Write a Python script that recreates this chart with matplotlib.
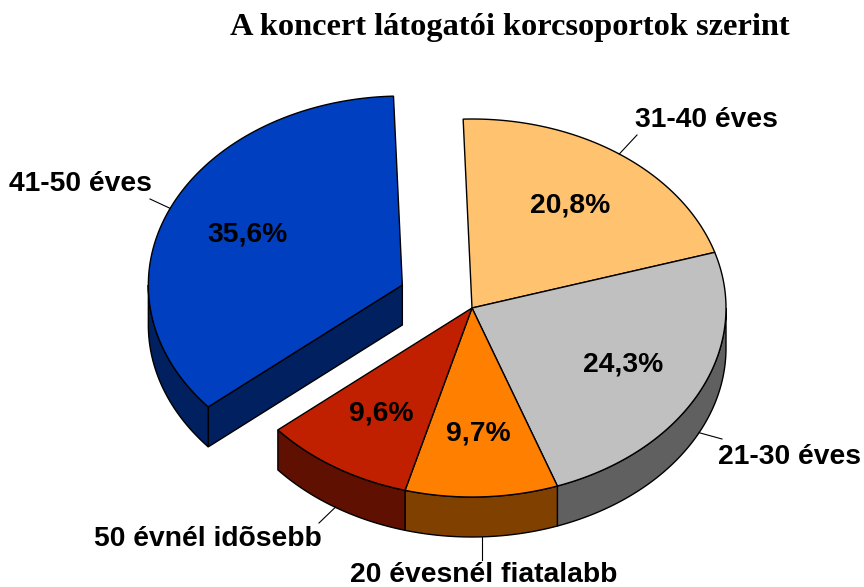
import numpy as np
import matplotlib
matplotlib.use("Agg")
import matplotlib.pyplot as plt
from matplotlib.patches import Polygon

# ---- data ----
categories = ["31-40 éves", "21-30 éves", "20 évesnél fiatalabb", "50 évnél idõsebb", "41-50 éves"]
values = [20.8, 24.3, 9.7, 9.6, 35.6]
explode = [0, 0, 0, 0, 0.3]
title = "A koncert látogatói korcsoportok szerint"

# ---- style ----
top_colors = ["#FFC26E", "#C0C0C0", "#FF8000", "#C02000", "#0040C0"]
side_colors = ["#805F37", "#606060", "#804000", "#601000", "#002060"]
label_pos = [(706, 120), (789, 457), (484, 575), (208, 539), (80, 184)]
leader_ends = [(637, 135), (722, 439), (None, 560), (319, 523), (150, 199)]

CX, CY = 472, 308      # pie centre (pixels)
A, B = 254, 189        # ellipse radii
D = 40                 # depth
START = -2.0           # start angle, degrees clockwise from top
FS = 20.3

fig = plt.figure(figsize=(8.64, 5.87), dpi=100)
ax = fig.add_axes([0, 0, 1, 1])
ax.set_xlim(0, 864)
ax.set_ylim(587, 0)
ax.axis("off")

def P(cx, cy, th, dz=0.0):
    r = np.radians(th)
    return cx + A * np.sin(r), cy - B * np.cos(r) + dz

def arc(cx, cy, t1, t2, dz=0.0):
    n = max(int(abs(t2 - t1)) * 2, 2)
    r = np.radians(np.linspace(t1, t2, n))
    return np.column_stack([cx + A * np.sin(r), cy - B * np.cos(r) + dz])

total = sum(values)
angles = []
a0 = START
for v in values:
    a1 = a0 + 360.0 * v / total
    angles.append((a0, a1))
    a0 = a1

centres = []
for (t1, t2), e in zip(angles, explode):
    mid = np.radians((t1 + t2) / 2)
    centres.append((CX + e * A * np.sin(mid), CY - e * B * np.cos(mid)))

EC = "black"
LW = 1.0

def draw_slice_sides(i, z, radial):
    t1, t2 = angles[i]
    cx, cy = centres[i]
    if radial:
        for th, nrm in ((t1, t1 - 90), (t2, t2 + 90)):
            if np.cos(np.radians(nrm)) < -0.05:
                x, y = P(cx, cy, th)
                poly = [(cx, cy), (x, y), (x, y + D), (cx, cy + D)]
                ax.add_patch(Polygon(poly, closed=True, fc=side_colors[i], ec=EC, lw=LW, zorder=z))
    for base in (-360, 0, 360):
        lo = max(t1, 90 + base)
        hi = min(t2, 270 + base)
        if hi > lo:
            top = arc(cx, cy, lo, hi)
            bot = arc(cx, cy, lo, hi, D)[::-1]
            ax.add_patch(Polygon(np.vstack([top, bot]), closed=True,
                                 fc=side_colors[i], ec=EC, lw=LW, zorder=z))

def draw_slice_top(i, z):
    t1, t2 = angles[i]
    cx, cy = centres[i]
    pts = np.vstack([[cx, cy], arc(cx, cy, t1, t2)])
    ax.add_patch(Polygon(pts, closed=True, fc=top_colors[i], ec=EC, lw=LW,
                         joinstyle="miter", zorder=z))

exploded = [i for i, e in enumerate(explode) if e > 0]
normal = [i for i, e in enumerate(explode) if e == 0]

for i in exploded:
    draw_slice_sides(i, 1, True)
    draw_slice_top(i, 2)
for i in normal:
    draw_slice_sides(i, 3, False)
for i in normal:
    draw_slice_top(i, 4)

# percentage labels
for i, v in enumerate(values):
    t1, t2 = angles[i]
    cx, cy = centres[i]
    x, y = P(cx, cy, (t1 + t2) / 2)
    lx = cx + 0.665 * (x - cx)
    ly = cy + 0.665 * (y - cy)
    ax.text(lx, ly, f"{v:.1f}".replace(".", ",") + "%", ha="center", va="center",
            fontsize=FS, fontweight="bold", family="Liberation Sans", zorder=10)

# category labels with leader lines
for i, name in enumerate(categories):
    t1, t2 = angles[i]
    cx, cy = centres[i]
    mid = (t1 + t2) / 2
    x, y = P(cx, cy, mid)
    if np.cos(np.radians(mid)) < 0:
        y += D
    tx, ty = label_pos[i]
    ax.text(tx, ty, name, ha="center", va="center", fontsize=FS,
            fontweight="bold", family="Liberation Sans", zorder=10)
    ex, ey = leader_ends[i]
    if ex is None:
        ex = x
    ax.plot([x, ex], [y, ey], color="black", lw=0.8, zorder=9)

ax.text(510, 28, title, ha="center", va="center", fontsize=23.3, fontweight="bold",
        family="Liberation Serif")

fig.savefig("out.png", dpi=100)
